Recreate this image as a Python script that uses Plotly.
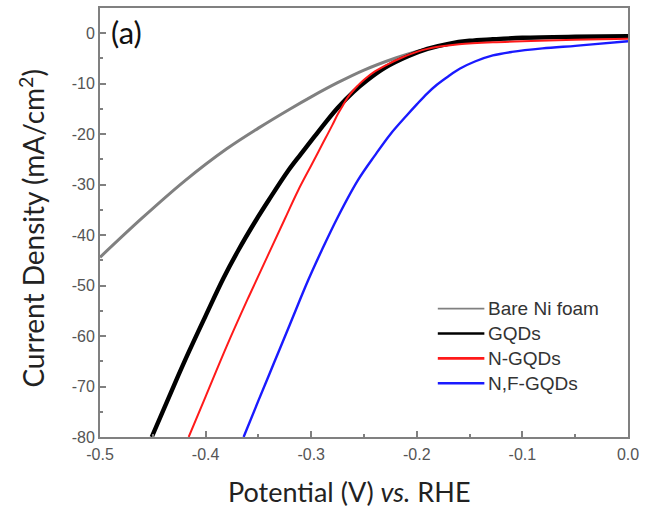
import plotly.graph_objects as go

# ---------------- data ----------------
bare_v = [-0.5, -0.46, -0.42, -0.38, -0.35, -0.32, -0.30, -0.275, -0.25, -0.22, -0.20, -0.18, -0.16,
          -0.13, -0.10, -0.05, 0.0]
bare_j = [-44.4, -36.6, -29.3, -22.9, -18.8, -15.0, -12.6, -9.8, -7.3, -4.9, -3.6, -2.6, -1.9,
          -1.35, -1.05, -0.8, -0.7]

gqd_v = [-0.451, -0.43, -0.416, -0.40, -0.383, -0.369, -0.353, -0.34, -0.322, -0.31, -0.297, -0.285,
         -0.275, -0.26, -0.247, -0.23, -0.209, -0.19, -0.17, -0.15, -0.128, -0.10, -0.05, 0.0]
gqd_j = [-80, -69.8, -63.2, -56.0, -48.5, -43.0, -37.3, -33.0, -27.3, -24.0, -20.5, -17.3,
         -14.8, -11.6, -9.3, -6.8, -4.6, -3.1, -2.1, -1.5, -1.2, -0.9, -0.7, -0.6]

ngqd_v = [-0.416, -0.40, -0.38, -0.36, -0.341, -0.325, -0.3125, -0.30, -0.29, -0.28, -0.275, -0.27,
          -0.265, -0.26, -0.256, -0.25, -0.24, -0.228, -0.215, -0.20, -0.19, -0.18, -0.16, -0.128,
          -0.10, -0.05, 0.0]
ngqd_j = [-80, -72.0, -62.0, -52.6, -44.0, -36.8, -31.2, -26.2, -22.2, -18.2, -16.1, -14.3,
          -12.6, -11.3, -10.4, -9.2, -7.6, -6.2, -4.9, -3.7, -3.1, -2.7, -2.2, -1.8,
          -1.6, -1.3, -1.1]

nfgqd_v = [-0.364, -0.35, -0.335, -0.32, -0.303, -0.29, -0.275, -0.256, -0.24, -0.225, -0.21, -0.20,
           -0.19, -0.181, -0.17, -0.159, -0.145, -0.128, -0.11, -0.081, -0.05, -0.034, 0.0]
nfgqd_j = [-80, -72.8, -65.2, -57.6, -49.0, -43.0, -36.5, -29.2, -24.3, -20.0, -16.4, -14.1,
           -11.9, -10.2, -8.5, -7.0, -5.6, -4.4, -3.7, -3.0, -2.5, -2.2, -1.6]

series_names = ["Bare Ni foam", "GQDs", "N-GQDs", "N,F-GQDs"]

x_tickvals = [-0.5, -0.4, -0.3, -0.2, -0.1, 0.0]
x_ticktext = ["-0.5", "-0.4", "-0.3", "-0.2", "-0.1", "0.0"]
y_tickvals = [0, -10, -20, -30, -40, -50, -60, -70, -80]
y_ticktext = ["0", "-10", "-20", "-30", "-40", "-50", "-60", "-70", "-80"]

# ---------------- figure ----------------
W, H = 645, 508
ML, MR, MT, MB = 100, 12, 6, 71
PW, PH = float(W - ML - MR), float(H - MT - MB)


def px_x(p):
    return (p - ML) / PW


def px_y(p):
    return (MT + PH - p) / PH


fig = go.Figure()
styles = [("#808080", 3.0), ("#000000", 4.4), ("#ff1a1a", 2.0), ("#1a1aff", 2.4)]
legend_widths = [1.6, 2.6, 2.6, 2.6]
for (vx, jy), name, (col, w) in zip(
        [(bare_v, bare_j), (gqd_v, gqd_j), (ngqd_v, ngqd_j), (nfgqd_v, nfgqd_j)], series_names, styles):
    fig.add_trace(go.Scatter(x=vx, y=jy, mode="lines", name=name, showlegend=False,
                             line=dict(color=col, width=w, shape="spline", smoothing=1.0)))

# legend drawn as line samples + text (legend box placement)
row_y = [308, 333, 358, 383]
for (col, _), lw, name, ry in zip(styles, legend_widths, series_names, row_y):
    fig.add_shape(type="line", xref="paper", yref="paper",
                  x0=px_x(441), x1=px_x(488), y0=px_y(ry), y1=px_y(ry),
                  line=dict(color=col, width=lw))
    fig.add_annotation(text=name, xref="paper", yref="paper", x=px_x(490), y=px_y(ry),
                       xanchor="left", yanchor="middle", showarrow=False,
                       font=dict(family="Liberation Sans, Arial", size=19, color="#333333"))

axis_common = dict(showline=True, linecolor="#808080", linewidth=2, mirror=True,
                   ticks="inside", ticklen=6, tickwidth=1.5, tickcolor="#808080",
                   showgrid=False, zeroline=False, ticklabeloverflow="allow",
                   tickfont=dict(family="Liberation Sans, Arial", size=16, color="#555555"))

fig.update_layout(
    width=W, height=H,
    margin=dict(l=ML, r=MR, t=MT, b=MB),
    plot_bgcolor="white", paper_bgcolor="white",
    showlegend=False,
    xaxis=dict(range=[-0.5, 0.0], tickvals=x_tickvals, ticktext=x_ticktext,
               minor=dict(dtick=0.05, ticks="inside", ticklen=3, tickcolor="#808080", tickwidth=1.5),
               ticklabelstandoff=2, **axis_common),
    yaxis=dict(range=[-80, 5], tickvals=y_tickvals, ticktext=y_ticktext,
               minor=dict(dtick=5, ticks="inside", ticklen=3, tickcolor="#808080", tickwidth=1.5),
               ticklabelstandoff=0, **axis_common),
)

fig.add_annotation(text="Potential (V) <i>vs.</i> RHE", xref="paper", yref="paper",
                   x=px_x(351), y=px_y(492), xanchor="center", yanchor="middle", showarrow=False,
                   font=dict(family="Lato", size=27, color="#222222"))
fig.add_annotation(text="Current Density (mA/cm<sup>2</sup>)", xref="paper", yref="paper",
                   x=px_x(32), y=px_y(227), xanchor="center", yanchor="middle", showarrow=False,
                   textangle=-90, font=dict(family="Lato", size=28, color="#222222"))
fig.add_annotation(text="(a)", xref="paper", yref="paper",
                   x=px_x(109), y=px_y(30), xanchor="left", yanchor="middle", showarrow=False,
                   font=dict(family="Lato", size=31, color="#111111"))

fig.write_html("out.html")
